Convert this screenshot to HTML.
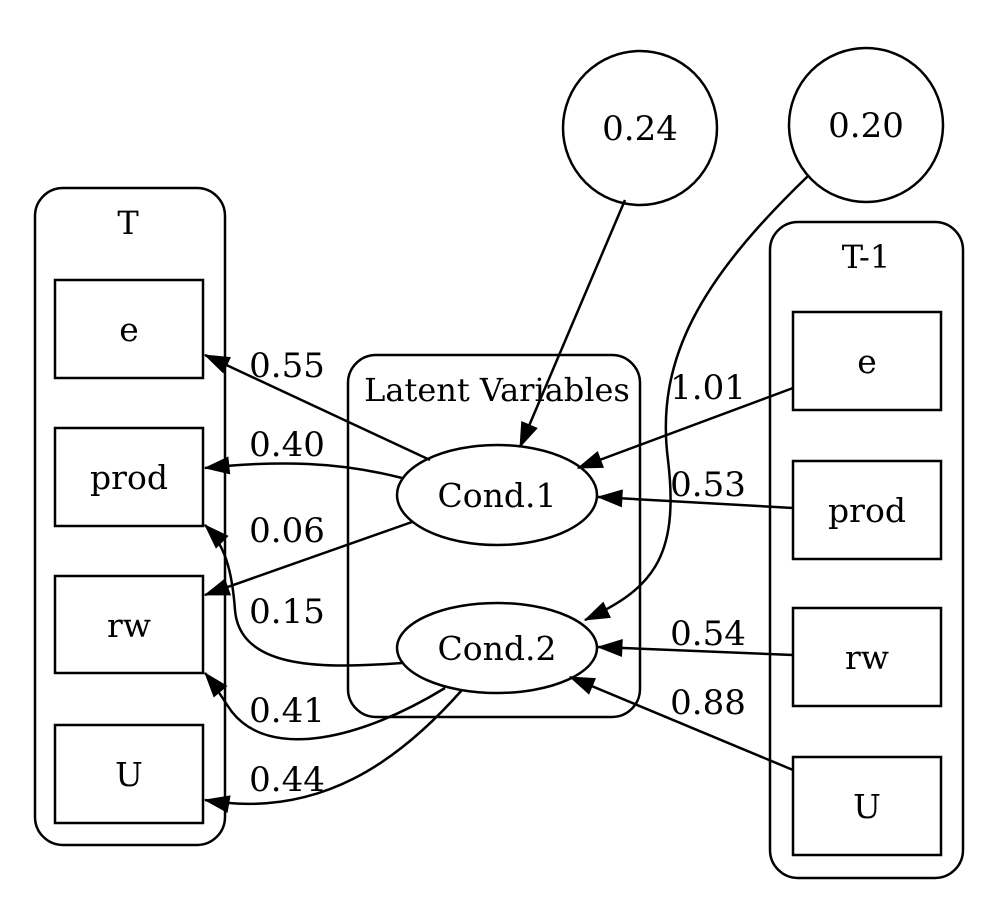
<!DOCTYPE html>
<html><head><meta charset="utf-8"><style>
html,body{margin:0;padding:0;background:#fff;}
svg{display:block;}
text{font-family:"DejaVu Serif","Liberation Serif",serif;font-size:33px;fill:#000;}
text.l{font-size:34px;}
text.c{font-size:32px;}
</style></head><body>
<svg width="997" height="911" viewBox="0 0 997 911" xmlns="http://www.w3.org/2000/svg">
<defs>
<marker id="ar" viewBox="0 0 20 14" refX="19" refY="7" markerWidth="26" markerHeight="18" orient="auto" markerUnits="userSpaceOnUse">
<path d="M0,0 L20,7 L0,14 z" fill="#000"/>
</marker>
</defs>
<g fill="none" stroke="#000" stroke-width="2.5">
<rect x="35" y="188" width="190" height="657" rx="28"/>
<rect x="770" y="222" width="193" height="656" rx="28"/>
<rect x="348" y="355" width="292" height="362" rx="28"/>
<rect x="55" y="280" width="148" height="98"/>
<rect x="55" y="428" width="148" height="98"/>
<rect x="55" y="576" width="148" height="97"/>
<rect x="55" y="725" width="148" height="98"/>
<rect x="793" y="312" width="148" height="98"/>
<rect x="793" y="461" width="148" height="98"/>
<rect x="793" y="608" width="148" height="98"/>
<rect x="793" y="757" width="148" height="98"/>
<ellipse cx="497" cy="495" rx="100" ry="50"/>
<ellipse cx="497" cy="648" rx="100" ry="45"/>
<circle cx="640" cy="128" r="77"/>
<circle cx="866" cy="125" r="77"/>
</g>
<g fill="none" stroke="#000" stroke-width="2.5" marker-end="url(#ar)">
<path d="M430,460 L205,355"/>
<path d="M402,478 C340,462 280,460 205,468"/>
<path d="M412,522 L205,595"/>
<path d="M402,663 C330,668 240,672 235,610 C232,570 225,545 205,525"/>
<path d="M445,688 C360,740 270,760 232,712 C222,698 215,685 205,673"/>
<path d="M462,690 C400,760 320,820 205,800"/>
<path d="M625,200 L520,447"/>
<path d="M808,176 C700,280 655,360 668,460 C680,560 650,590 585,620"/>
<path d="M793,388 L578,468"/>
<path d="M793,508 L598,497"/>
<path d="M793,655 L598,647"/>
<path d="M793,770 L570,677"/>
</g>
<g text-anchor="middle">
<text class="c" x="128" y="234">T</text>
<text class="c" x="866" y="268">T-1</text>
<text class="c" x="497" y="401">Latent Variables</text>
<text x="129" y="341">e</text>
<text x="129" y="489">prod</text>
<text x="129" y="637">rw</text>
<text x="129" y="786">U</text>
<text x="867" y="373">e</text>
<text x="867" y="522">prod</text>
<text x="867" y="669">rw</text>
<text x="867" y="818">U</text>
<text x="497" y="507">Cond.1</text>
<text x="497" y="660">Cond.2</text>
<text class="l" x="640" y="140">0.24</text>
<text class="l" x="866" y="137">0.20</text>
<text class="l" x="287" y="377">0.55</text>
<text class="l" x="287" y="456">0.40</text>
<text class="l" x="287" y="542">0.06</text>
<text class="l" x="287" y="623">0.15</text>
<text class="l" x="287" y="722">0.41</text>
<text class="l" x="287" y="791">0.44</text>
<text class="l" x="708" y="399">1.01</text>
<text class="l" x="708" y="496">0.53</text>
<text class="l" x="708" y="645">0.54</text>
<text class="l" x="708" y="714">0.88</text>
</g>
</svg>
</body></html>
